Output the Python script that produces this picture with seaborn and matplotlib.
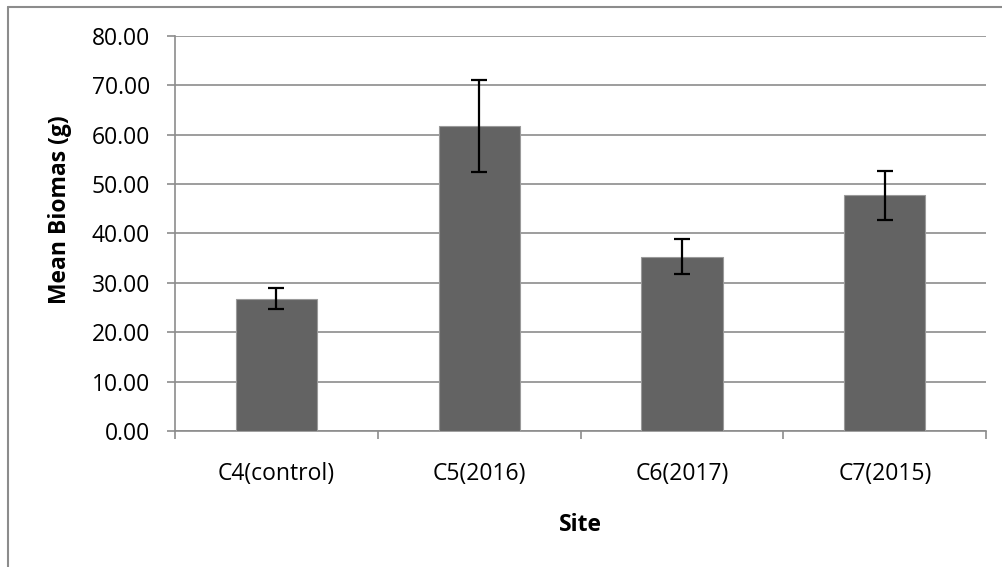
import matplotlib
matplotlib.use("Agg")
import matplotlib.pyplot as plt
from matplotlib.lines import Line2D
from matplotlib.ticker import FormatStrFormatter
import seaborn as sns
import pandas as pd
import numpy as np

sites = ["C4(control)", "C5(2016)", "C6(2017)", "C7(2015)"]
mean_biomass = [26.85, 61.8, 35.3, 47.7]
error = [2.05, 9.3, 3.5, 5.0]
y_ticks = [0, 10, 20, 30, 40, 50, 60, 70, 80]

sns.set_theme(style="white")
plt.rcParams["font.family"] = ["Open Sans", "DejaVu Sans"]

W, H = 1003, 567
FS = 16.5
fig = plt.figure(figsize=(W / 100, H / 100), dpi=100)
ax = fig.add_axes([175 / W, 1 - 431.3 / H, (986.3 - 175) / W, (431.3 - 35.7) / H])

df = pd.DataFrame({"Site": sites, "Mean": mean_biomass})
sns.barplot(data=df, x="Site", y="Mean", ax=ax, color="#636363", width=0.4,
            errorbar=None, saturation=1, edgecolor="#9a9a9a", linewidth=0.8, zorder=3)
ax.errorbar(np.arange(len(sites)), mean_biomass, yerr=error, fmt="none",
            ecolor="black", elinewidth=1.6, capsize=5.5, capthick=1.6, zorder=4)

grid_c = "#8c8c8c"
ax.set_ylim(0, 80)
ax.set_xlim(-0.5, len(sites) - 0.5)
ax.set_yticks(y_ticks)
ax.yaxis.set_major_formatter(FormatStrFormatter("%.2f"))
ax.yaxis.grid(True, color=grid_c, linewidth=1.2, zorder=0)
ax.set_axisbelow(True)
for s in ["top", "right"]:
    ax.spines[s].set_visible(False)
for s in ["left", "bottom"]:
    ax.spines[s].set_color(grid_c)
    ax.spines[s].set_linewidth(1.2)

ax.tick_params(axis="y", which="major", direction="out", length=6, width=1.2,
               color=grid_c, labelsize=FS, labelcolor="black", pad=12, left=True)
ax.set_xticks(np.arange(len(sites)))
ax.set_xticklabels(sites)
ax.set_xticks(np.arange(len(sites) + 1) - 0.5, minor=True)
ax.tick_params(axis="x", which="major", length=0, labelsize=FS, labelcolor="black", pad=22)
ax.tick_params(axis="x", which="minor", direction="out", length=5.5, width=1.2,
               color=grid_c, bottom=True)

ax.set_xlabel("Site", fontsize=FS, fontweight="bold", color="black")
ax.xaxis.set_label_coords(0.5, (431.3 - 525) / (431.3 - 35.7), transform=ax.transAxes)
ax.xaxis.label.set_va("center")
ax.set_ylabel("Mean Biomas (g)", fontsize=FS, fontweight="bold", color="black")
ax.yaxis.set_label_coords((60 - 175) / (986.3 - 175), (431.3 - 209.5) / (431.3 - 35.7),
                          transform=ax.transAxes)
ax.yaxis.label.set_va("center")

# outer chart border (top and left visible)
fig.add_artist(Line2D([8 / W, 1.0], [1 - 7 / H, 1 - 7 / H], transform=fig.transFigure,
                      color=grid_c, linewidth=1.5))
fig.add_artist(Line2D([8 / W, 8 / W], [1 - 7 / H, 0.0], transform=fig.transFigure,
                      color=grid_c, linewidth=1.5))

fig.savefig("out.png", dpi=100, facecolor="white")
